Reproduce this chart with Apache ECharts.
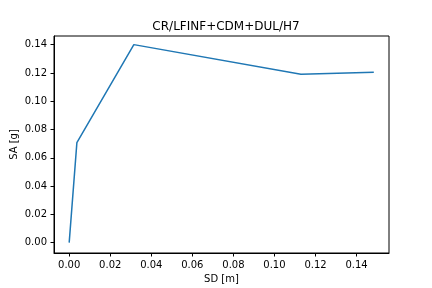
<!DOCTYPE html>
<html lang="en">
<head>
    <meta charset="UTF-8">
    <title>CR/LFINF+CDM+DUL/H7</title>
    <script src="https://cdn.jsdelivr.net/npm/echarts@6/dist/echarts.min.js"></script>
</head>
<body style="margin:0;">
<div id="demo" style="width: 432px;height: 288px;"></div>
</body>
</html>
<script>
    // values
    var sdValues = [0.0, 0.00375, 0.0315, 0.1129, 0.1484];
    var saValues = [0.0, 0.0707, 0.1400, 0.1190, 0.1204];
    var xTicks = [0, 0.02, 0.04, 0.06, 0.08, 0.10, 0.12, 0.14];
    var yTicks = [0, 0.02, 0.04, 0.06, 0.08, 0.10, 0.12, 0.14];

    var points = [];
    for (var i = 0; i < sdValues.length; i++) {
        points.push([sdValues[i], saValues[i]]);
    }

    var font = 'DejaVu Sans';
    var myChart = echarts.init(document.getElementById('demo'));
    var option = {
        animation: false,
        title: {
            text: 'CR/LFINF+CDM+DUL/H7',
            left: 221,
            textAlign: 'center',
            top: 16,
            textStyle: {fontFamily: font, fontSize: 12, fontWeight: 'normal', color: '#000'}
        },
        grid: {
            left: 54, right: 43, top: 36, bottom: 35,
            outerBoundsMode: 'none',
            containLabel: false,
            show: true, borderColor: '#000', borderWidth: 1
        },
        xAxis: {
            type: 'value',
            min: -0.0074,
            max: 0.1558,
            name: 'SD [m]',
            nameLocation: 'middle',
            nameGap: 21,
            nameMoveOverlap: false,
            nameTextStyle: {fontFamily: font, fontSize: 10, color: '#000'},
            axisLine: {onZero: false, lineStyle: {color: '#000'}},
            axisTick: {show: true, length: 3.5, customValues: xTicks, lineStyle: {color: '#000'}},
            axisLabel: {
                customValues: xTicks, fontFamily: font, fontSize: 10, color: '#000', margin: 7,
                formatter: function (v) { return v.toFixed(2); }
            },
            splitLine: {show: false}
        },
        yAxis: {
            type: 'value',
            min: -0.0073,
            max: 0.1461,
            name: 'SA [g]',
            nameLocation: 'middle',
            nameGap: 35,
            nameMoveOverlap: false,
            nameTextStyle: {fontFamily: font, fontSize: 10, color: '#000'},
            axisLine: {show: true, onZero: false, lineStyle: {color: '#000'}},
            axisTick: {show: true, length: 3.5, customValues: yTicks, lineStyle: {color: '#000'}},
            axisLabel: {
                customValues: yTicks, fontFamily: font, fontSize: 10, color: '#000', margin: 7,
                formatter: function (v) { return v.toFixed(2); }
            },
            splitLine: {show: false}
        },
        series: [
            {
                type: 'line',
                data: points,
                showSymbol: false,
                symbol: 'none',
                lineStyle: {color: '#1f77b4', width: 1.5}
            }
        ]
    };
    myChart.setOption(option);
</script>
